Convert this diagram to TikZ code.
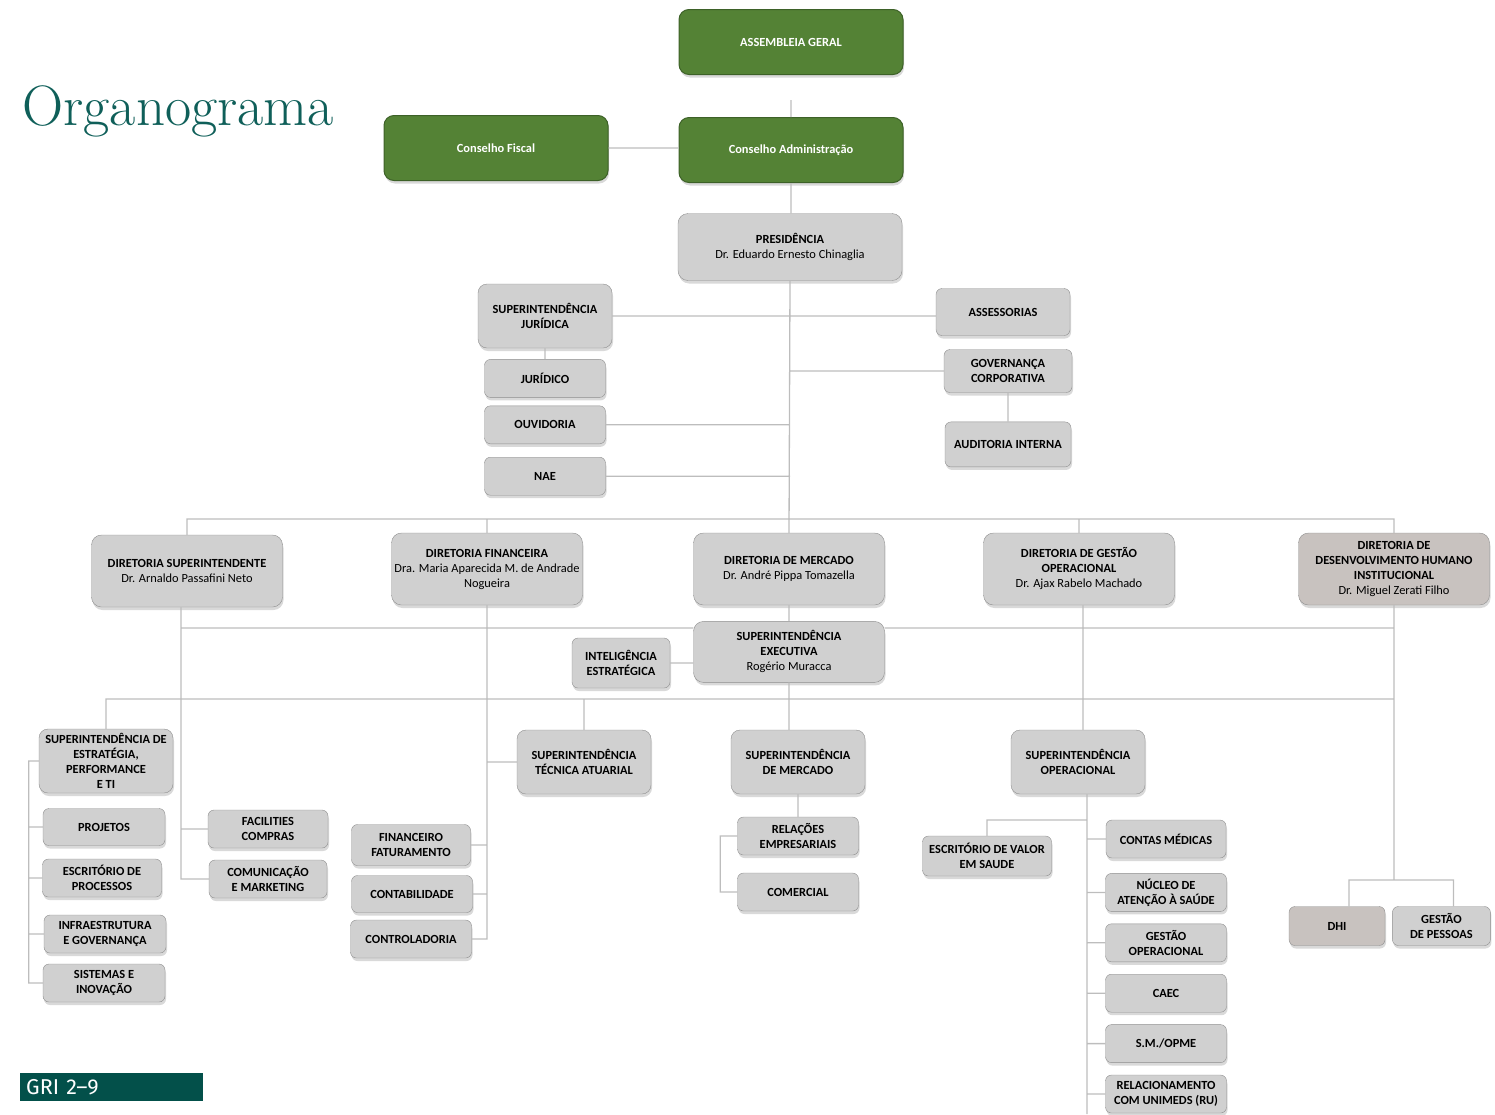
\documentclass[tikz,border=0pt]{standalone}
\usepackage{fontspec}
\usepackage{tikz}
\usetikzlibrary{positioning,shadows}
\newfontfamily\boxfont{Carlito}
\newfontfamily\grifont{Fira Sans}
\definecolor{boxgreen}{HTML}{548235}
\definecolor{greenline}{HTML}{3D6128}
\definecolor{boxgray}{HTML}{D0D0D0}
\definecolor{boxline}{HTML}{8E8E8E}
\definecolor{boxtaupe}{HTML}{C8C2BF}
\definecolor{linkgray}{HTML}{BDBDBD}
\definecolor{titleteal}{HTML}{0F5F59}
\definecolor{griteal}{HTML}{03504A}
\tikzstyle{unitbox} = [draw=boxline, fill=boxgray, rounded corners=6pt, align=center, inner sep=2pt, font=\boxfont\fontsize{12.4}{15}\selectfont\bfseries, minimum width=121pt, minimum height=38pt, drop shadow={shadow xshift=1pt, shadow yshift=-3pt, opacity=0.3}]
\tikzstyle{supbox} = [unitbox, rounded corners=9pt, minimum width=134pt, minimum height=64pt]
\tikzstyle{dirbox} = [unitbox, rounded corners=10pt, minimum width=191pt, minimum height=72pt]
\tikzstyle{topbox} = [unitbox, rounded corners=10pt, minimum width=224pt, minimum height=67pt]
\tikzstyle{greenbox} = [topbox, fill=boxgreen, draw=greenline, text=white, minimum height=65pt, line width=1pt]
\tikzstyle{dhbox} = [fill=boxtaupe]
\tikzstyle{link} = [draw=linkgray, line width=1.3pt]

\begin{document}
\begin{tikzpicture}[x=1pt, y=-1pt]
\useasboundingbox (0,0) rectangle (1495,1114);

\node[anchor=base west, text=titleteal, font=\fontsize{57}{66}\selectfont] (title) at (19,125) {Organograma};

% conselhos e presidencia
\node[greenbox] (asm) at (791,42) {ASSEMBLEIA GERAL};
\node[greenbox] (cfis) at (496,148) {Conselho Fiscal};
\node[greenbox] (cadm) at (791,150) {Conselho Administração};
\node[topbox] (pres) at (790,247) {PRESIDÊNCIA\\{\mdseries Dr. Eduardo Ernesto Chinaglia}};

% staff
\node[supbox] (supjur) at (545,316) {SUPERINTENDÊNCIA\\JURÍDICA};
\node[unitbox, below=11pt of supjur] (jur) {JURÍDICO};
\node[unitbox, below=8pt of jur] (ouv) {OUVIDORIA};
\node[unitbox, below=13pt of ouv] (nae) {NAE};
\node[unitbox, minimum width=134pt, minimum height=47pt] (asses) at (1003,312) {ASSESSORIAS};
\node[unitbox, minimum width=128pt, minimum height=43pt] (gov) at (1008,371) {GOVERNANÇA\\CORPORATIVA};
\node[unitbox, minimum width=126pt, minimum height=45pt, below=29pt of gov] (aud) {AUDITORIA INTERNA};

% diretorias
\node[dirbox] (dsup) at (187,571) {DIRETORIA SUPERINTENDENTE\\{\mdseries Dr. Arnaldo Passafini Neto}};
\node[dirbox] (dfin) at (487,569) {DIRETORIA FINANCEIRA\\{\mdseries Dra. Maria Aparecida M. de Andrade}\\{\mdseries Nogueira}};
\node[dirbox] (dmer) at (789,569) {DIRETORIA DE MERCADO\\{\mdseries Dr. André Pippa Tomazella}};
\node[dirbox] (dger) at (1079,569) {DIRETORIA DE GESTÃO\\OPERACIONAL\\{\mdseries Dr. Ajax Rabelo Machado}};
\node[dirbox, dhbox] (ddh) at (1394,569) {DIRETORIA DE\\DESENVOLVIMENTO HUMANO\\INSTITUCIONAL\\{\mdseries Dr. Miguel Zerati Filho}};

\node[dirbox, minimum height=61pt, below=16pt of dmer] (supex) {SUPERINTENDÊNCIA\\EXECUTIVA\\{\mdseries Rogério Muracca}};
\node[unitbox, minimum width=98pt, minimum height=50pt] (intel) at (621,663) {INTELIGÊNCIA\\ESTRATÉGICA};

% superintendencias
\node[supbox] (supest) at (106,761) {SUPERINTENDÊNCIA DE\\ESTRATÉGIA,\\PERFORMANCE\\E TI};
\node[supbox] (supta) at (584,762) {SUPERINTENDÊNCIA\\TÉCNICA ATUARIAL};
\node[supbox] (supmer) at (798,762) {SUPERINTENDÊNCIA\\DE MERCADO};
\node[supbox] (supop) at (1078,762) {SUPERINTENDÊNCIA\\OPERACIONAL};

% areas
\node[unitbox, minimum width=122pt, minimum height=37pt] (proj) at (104,827) {PROJETOS};
\node[unitbox, minimum width=119pt] (escp) at (102,878) {ESCRITÓRIO DE\\PROCESSOS};
\node[unitbox, minimum width=122pt] (infra) at (105,934) {INFRAESTRUTURA\\E GOVERNANÇA};
\node[unitbox, minimum width=122pt] (sis) at (104,983) {SISTEMAS E\\INOVAÇÃO};

\node[unitbox, minimum width=120pt] (fac) at (268,829) {FACILITIES\\COMPRAS};
\node[unitbox, minimum width=118pt] (com) at (268,879) {COMUNICAÇÃO\\E MARKETING};

\node[unitbox, minimum width=119pt, minimum height=41pt] (finf) at (411,845) {FINANCEIRO\\FATURAMENTO};
\node[unitbox, minimum height=37pt] (cont) at (412,894) {CONTABILIDADE};
\node[unitbox] (ctrl) at (411,939) {CONTROLADORIA};

\node[unitbox] (rel) at (798,836) {RELAÇÕES\\EMPRESARIAIS};
\node[unitbox] (comer) at (798,892) {COMERCIAL};

\node[unitbox, minimum width=129pt, minimum height=40pt] (esv) at (987,856) {ESCRITÓRIO DE VALOR\\EM SAUDE};
\node[unitbox, minimum width=120pt] (cmed) at (1166,839) {CONTAS MÉDICAS};
\node[unitbox, below=15pt of cmed] (nas) {NÚCLEO DE\\ATENÇÃO À SAÚDE};
\node[unitbox, below=12pt of nas] (gop) {GESTÃO\\OPERACIONAL};
\node[unitbox, below=12pt of gop] (caec) {CAEC};
\node[unitbox, below=12pt of caec] (smo) {S.M./OPME};
\node[unitbox, below=12pt of smo] (rru) {RELACIONAMENTO\\COM UNIMEDS (RU)};

\node[unitbox, dhbox, minimum width=96pt, minimum height=39pt] (dhi) at (1337,926) {DHI};
\node[unitbox, minimum width=98pt, minimum height=39pt, right=7pt of dhi] (gpes) {GESTÃO\\DE PESSOAS};

\node[fill=griteal, text=white, font=\grifont\fontsize{21.5}{24}\selectfont, anchor=north west, minimum height=28pt, text width=171pt, inner xsep=6pt, inner ysep=0pt, align=left] (gri) at (20,1073) {GRI 2–9};

\coordinate (busA) at (789,519);
\coordinate (busB) at (789,628);
\coordinate (busC) at (789,699);
\coordinate (busD) at (1394,880);
\coordinate (opbus) at (1087,820);
\coordinate (opend) at (1087,1114);
\coordinate (dsT) at ([xshift=-6pt]dsup.south);
\coordinate (dgT) at ([xshift=4pt]dger.south);
\coordinate (opT) at ([xshift=9pt]supop.south);
\coordinate (brkA) at ([xshift=-10pt]supest.west);
\coordinate (brkB) at ([xshift=-17pt]rel.west);

\draw[link]
	([yshift=-25pt]asm.south) -- (cadm.north)
	(cfis.east) -- (cfis.east -| cadm.west)
	(cadm.south) -- (cadm.south |- pres.north)
	(pres.south) -- (dmer.north)
	(supjur.east) -- (supjur.east -| asses.west)
	(supjur.south) -- (jur.north)
	(ouv.east) -- (ouv.east -| pres.south)
	(nae.east) -- (nae.east -| pres.south)
	(gov.west) -- (gov.west -| pres.south)
	(gov.south) -- (aud.north)

	(dsup.north) |- (busA) -| (ddh.north)
	(dfin.north) -- (dfin.north |- busA)
	(dger.north) -- (dger.north |- busA)
	(dmer.south) -- (supex.north)
	(dsT |- busB) -- (supex.west |- busB)
	(supex.east |- busB) -- (ddh.south |- busB)
	(intel.east) -- (intel.east -| supex.west)

	(supest.north) |- (busC) -- (busC -| ddh.south)
	(ddh.south) -- (busD)
	([xshift=12pt]dhi.north) |- (busD) -| ([xshift=12pt]gpes.north)
	(supta.north) -- (supta.north |- busC)
	(supex.south) -- (supex.south |- supmer.north)
	(dgT) -- (dgT |- supop.north)

	(supest.west) -- (brkA) |- (sis.west)
	(proj.west) -- (proj.west -| brkA)
	(escp.west) -- (escp.west -| brkA)
	(infra.west) -- (infra.west -| brkA)

	(dsT) |- (com.west)
	(fac.west) -- (fac.west -| dsT)

	(dfin.south) |- (ctrl.east)
	(finf.east) -- (finf.east -| dfin.south)
	(cont.east) -- (cont.east -| dfin.south)
	(supta.west) -- (supta.west -| dfin.south)

	(supmer.south) -- (rel.north)
	(rel.west) -- (brkB) |- (comer.west)

	(opT) -- (opend)
	(esv.north) |- (opbus)
	(cmed.west) -- (cmed.west -| opT)
	(nas.west) -- (nas.west -| opT)
	(gop.west) -- (gop.west -| opT)
	(caec.west) -- (caec.west -| opT)
	(smo.west) -- (smo.west -| opT)
	(rru.west) -- (rru.west -| opT)
;

\end{tikzpicture}
\end{document}
